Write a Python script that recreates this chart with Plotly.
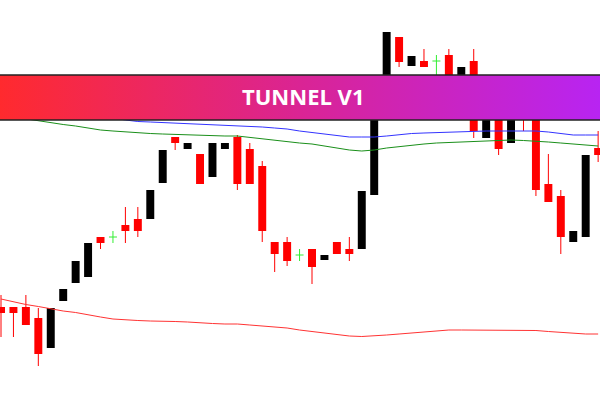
import plotly.graph_objects as go

# ---- data (price units) ----
opens  = [93, 93, 93, 82, 52, 99, 117, 123, 163, 163, 175, 181, 181, 217, 263, 251, 246, 223, 251, 263,
          251, 234, 158, 158, 145, 151, 140, 158, 151, 151, 205, 300, 363, 334, 339, 339, 345, 305, 339, 262,
          300, 257, 302, 295, 216, 204, 158, 163, 252]
highs  = [105, 93, 105, 92, 92, 111, 139, 157, 163, 169, 193, 193, 210, 250, 263, 257, 246, 257, 257, 265,
          257, 239, 158, 163, 151, 151, 145, 158, 163, 209, 300, 368, 363, 344, 351, 345, 351, 333, 351, 300,
          305, 295, 305, 298, 246, 210, 169, 245, 269]
lows   = [63, 63, 75, 34, 52, 99, 117, 123, 151, 157, 157, 163, 181, 217, 250, 251, 216, 223, 251, 210,
          216, 158, 128, 134, 139, 116, 140, 146, 139, 151, 205, 300, 333, 334, 333, 325, 315, 305, 262, 262,
          245, 257, 269, 204, 198, 146, 158, 163, 238]
closes = [87, 87, 75, 46, 92, 111, 139, 157, 157, 163, 169, 169, 210, 250, 257, 257, 216, 257, 257, 216,
          216, 169, 146, 139, 145, 133, 145, 146, 146, 209, 300, 368, 338, 344, 333, 339, 315, 333, 269, 300,
          251, 295, 288, 210, 198, 163, 169, 245, 245]

blue_line = [292, 290, 289, 288, 287, 286, 285, 284, 283, 282, 280, 278.5, 278, 277.5, 277, 276.5, 276,
             275, 274.5, 274, 273.5, 273, 272, 271, 269, 267.5, 266, 264.5, 263, 263, 263, 264, 265.5,
             266.5, 267, 267.5, 268, 268, 268.5, 269, 269, 269, 269, 269, 268, 266.5, 265, 265, 265]
green_line = [285, 283, 281, 279.5, 277, 275.5, 274, 272, 270, 269, 268, 267, 266.5, 266, 265.5, 265, 264.5,
              264, 264, 264, 262.5, 261, 259.5, 258, 257, 256, 254, 252, 250, 249, 250, 252, 253.5, 255,
              256, 257, 257.5, 258.5, 259, 259.5, 260, 260, 259.5, 259, 258, 257, 256, 255, 254]
red_line = [101, 98, 95.5, 93.5, 91, 89, 87.5, 85, 83, 81, 80, 79.5, 79, 79, 78.5, 78, 77, 76.5, 76, 76,
            75, 74, 73.5, 72, 70, 68.5, 67, 65.5, 64, 63.5, 64, 65, 66, 67, 68.5, 69.5, 70, 70, 70, 70, 70,
            70, 70, 69.5, 68.5, 67.5, 66.5, 66, 66]

banner_text = "TUNNEL V1"
banner_top, banner_bottom = 325, 280

idx = list(range(len(opens)))
X0, X1 = -0.08, 48.15

fig = go.Figure()

groups = {
    "up": ([i for i in idx if closes[i] > opens[i]], "#000000"),
    "down": ([i for i in idx if closes[i] < opens[i]], "#ff0000"),
}
for name, (ids, col) in groups.items():
    fig.add_trace(go.Bar(
        x=ids,
        base=[min(opens[i], closes[i]) for i in ids],
        y=[abs(closes[i] - opens[i]) for i in ids],
        width=0.64, marker=dict(color=col, line=dict(width=0)),
        hoverinfo="skip", showlegend=False))
    wx, wy = [], []
    for i in ids:
        wx += [i, i, None]
        wy += [lows[i], highs[i], None]
    fig.add_trace(go.Scatter(x=wx, y=wy, mode="lines", line=dict(color=col, width=1),
                             hoverinfo="skip", showlegend=False))

# doji crosses
dj = [i for i in idx if closes[i] == opens[i]]
dx, dy = [], []
for i in dj:
    dx += [i, i, None, i - 0.32, i + 0.32, None]
    dy += [lows[i], highs[i], None, opens[i], opens[i], None]
fig.add_trace(go.Scatter(x=dx, y=dy, mode="lines", line=dict(color="#33ee33", width=1),
                         hoverinfo="skip", showlegend=False))

for vals, col in [(blue_line, "#3333ff"), (green_line, "#1a8f1a"), (red_line, "#ff3333")]:
    fig.add_trace(go.Scatter(x=idx, y=vals, mode="lines", line=dict(color=col, width=1),
                             hoverinfo="skip", showlegend=False))

# banner
fig.add_trace(go.Scatter(
    x=[X0, X1, X1, X0, X0], y=[banner_bottom, banner_bottom, banner_top, banner_top, banner_bottom],
    mode="lines", fill="toself", line=dict(width=0),
    fillgradient=dict(type="horizontal",
                      colorscale=[[0, "#ff2a2e"], [0.5, "#da2494"], [1, "#b824f2"]]),
    hoverinfo="skip", showlegend=False))
fig.add_trace(go.Scatter(x=[-1, 49, None, -1, 49], y=[banner_top, banner_top, None, banner_bottom, banner_bottom],
                         mode="lines", line=dict(color="#222222", width=1.5),
                         hoverinfo="skip", showlegend=False))

fig.add_annotation(x=0.505, y=(banner_top + banner_bottom) / 2, xref="paper", yref="y",
                   text=banner_text, showarrow=False, yshift=2,
                   font=dict(family="Open Sans", size=22, color="white", weight=700))

fig.update_layout(
    width=600, height=400, margin=dict(l=0, r=0, t=0, b=0),
    paper_bgcolor="white", plot_bgcolor="white", barmode="overlay",
    xaxis=dict(range=[X0, X1], visible=False, showgrid=False, zeroline=False),
    yaxis=dict(range=[0, 400], visible=False, showgrid=False, zeroline=False),
)

fig.write_html("out.html", config={"displayModeBar": False},
               post_script="document.body.style.margin='0';")
